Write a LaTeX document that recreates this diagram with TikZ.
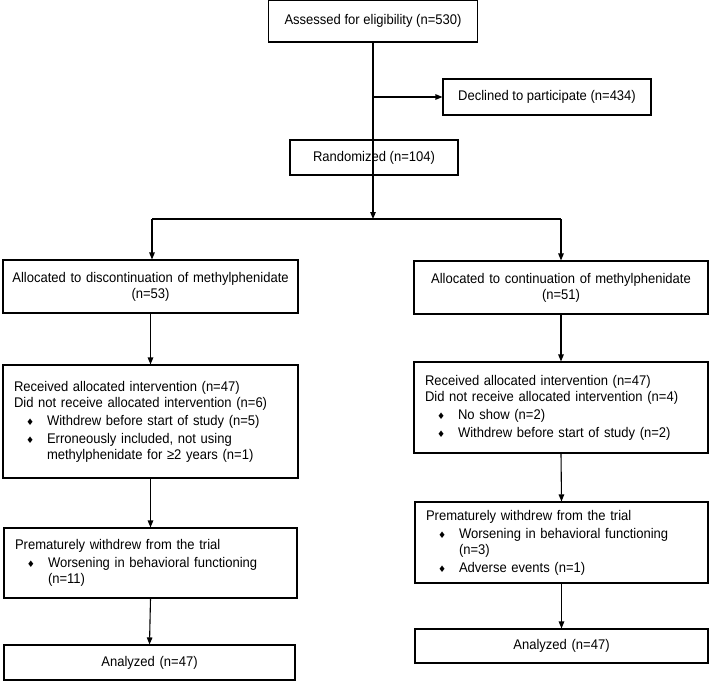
\documentclass[tikz,border=0pt]{standalone}
\usepackage{fontspec}
\setmainfont{Liberation Sans}[FakeStretch=0.93]
\newfontfamily\symfont{DejaVu Sans}
\usetikzlibrary{arrows.meta}

\newcommand\diam{{\symfont\fontsize{9}{9}\selectfont ♦}}
\newcommand\itm[1]{\par\vspace{2pt}\hangindent=33pt\hangafter=1\noindent\hspace*{12pt}\makebox[21pt][l]{\diam}#1}

\tikzset{
  box/.style={draw, line width=1.1pt, inner xsep=11pt, inner ysep=3pt,
    font=\fontsize{14}{16}\selectfont},
  arr/.style={-{Triangle[length=7pt,width=5.5pt]}, line width=1.1pt}
}

\begin{document}
\begin{tikzpicture}[x=1pt,y=1pt,yscale=-1]
\useasboundingbox (0,0) rectangle (709,682);

% top of the chart
\node [box, minimum width=209, minimum height=42] (assess) at (373,21) {Assessed for eligibility (n=530)};
\node [box, minimum width=208, minimum height=36] (declined) at (547,97) {Declined to participate (n=434)};
\node [box, minimum width=168, minimum height=35] (random) at (374,157.5) {Randomized (n=104)};

% left arm
\node [box, inner xsep=5pt, text width=285, align=center, minimum height=53] (allocL) at (150.5,286.5) {Allocated to discontinuation of methylphenidate\\(n=53)};
\node [box, text width=273, align=left, minimum height=113] (recvL) at (150.5,421.5) {Received allocated intervention (n=47)\\Did not receive allocated intervention (n=6)
  \itm{Withdrew before start of study (n=5)}
  \itm{Erroneously included, not using\newline methylphenidate for ≥2 years (n=1)}\par};
\node [box, text width=271, align=left, minimum height=70] (premL) at (150.5,563) {Prematurely withdrew from the trial
  \itm{Worsening in behavioral functioning\newline (n=11)}\par};
\node [box, text width=269, align=center, minimum height=35] (anaL) at (149.5,662.5) {Analyzed (n=47)};

% right arm
\node [box, inner xsep=5pt, text width=284, align=center, minimum height=53] (allocR) at (561,287.5) {Allocated to continuation of methylphenidate\\(n=51)};
\node [box, text width=272, align=left, minimum height=91] (recvR) at (561,407.5) {Received allocated intervention (n=47)\\Did not receive allocated intervention (n=4)
  \itm{No show (n=2)}
  \itm{Withdrew before start of study (n=2)}\par};
\node [box, text width=271, align=left, minimum height=81] (premR) at (561.5,542.5) {Prematurely withdrew from the trial
  \itm{Worsening in behavioral functioning\newline (n=3)}
  \itm{Adverse events (n=1)}\par};
\node [box, text width=271, align=center, minimum height=34] (anaR) at (561.5,646) {Analyzed (n=47)};

% connectors
\coordinate (split) at (373,219);
\coordinate (splitL) at (152,219);
\coordinate (splitR) at (561,219);
\draw [arr] (assess.south) -- (split);
\draw [arr] (assess.south |- declined.west) -- (declined.west);
\draw [line width=1.1pt] (splitL) -- (splitR);
\draw [arr] (splitL) -- (splitL |- allocL.north);
\draw [arr] (splitR) -- (splitR |- allocR.north);
\draw [arr] (allocL.south) -- (recvL.north);
\draw [arr] (recvL.south) -- (premL.north);
\draw [arr] (premL.south) -- (anaL.north);
\draw [arr] (allocR.south) -- (recvR.north);
\draw [arr] (recvR.south) -- (premR.north);
\draw [arr] (premR.south) -- (anaR.north);

\end{tikzpicture}
\end{document}
